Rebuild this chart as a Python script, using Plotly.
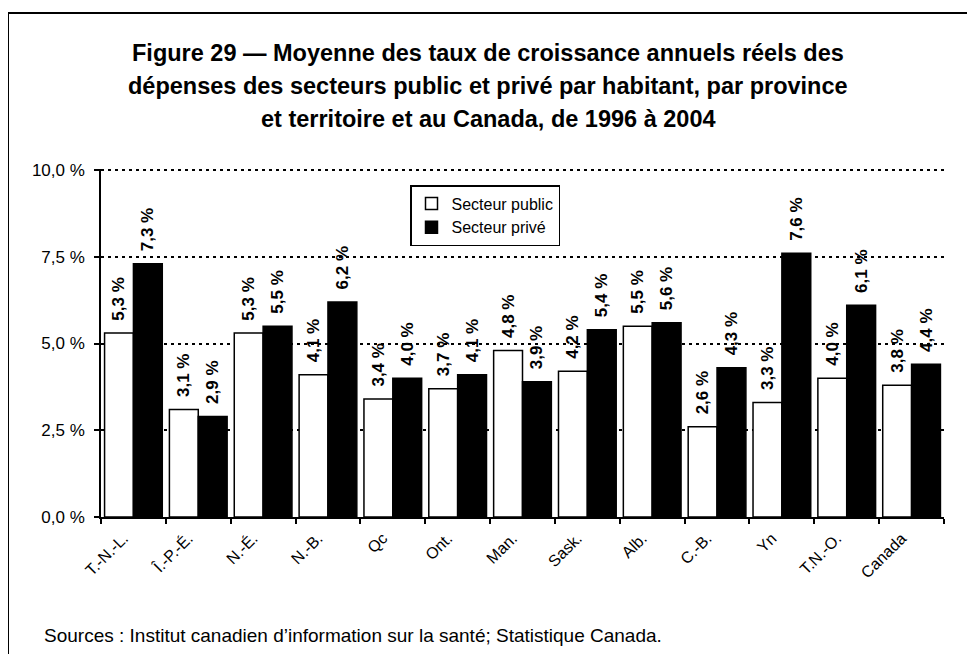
import plotly.graph_objects as go

categories = ["T.-N.-L.", "Î.-P.-É.", "N.-É.", "N.-B.", "Qc", "Ont.", "Man.",
              "Sask.", "Alb.", "C.-B.", "Yn", "T.N.-O.", "Canada"]
public_sector = [5.3, 3.1, 5.3, 4.1, 3.4, 3.7, 4.8, 4.2, 5.5, 2.6, 3.3, 4.0, 3.8]
private_sector = [7.3, 2.9, 5.5, 6.2, 4.0, 4.1, 3.9, 5.4, 5.6, 4.3, 7.6, 6.1, 4.4]
y_ticks = [0, 2.5, 5, 7.5, 10]
y_tick_labels = ["0,0 %", "2,5 %", "5,0 %", "7,5 %", "10,0 %"]

title_lines = [
    "Figure 29 — Moyenne des taux de croissance annuels réels des",
    "dépenses des secteurs public et privé par habitant, par province",
    "et territoire et au Canada, de 1996 à 2004",
]
source_text = "Sources : Institut canadien d’information sur la santé; Statistique Canada."

FONT = "Liberation Sans, Arial, Helvetica, sans-serif"

fig = go.Figure()
fig.add_trace(go.Bar(
    name="Secteur public", x=categories, y=public_sector,
    marker=dict(color="white", line=dict(color="black", width=1.5)),
    texttemplate="\u00a0\u00a0%{y:.1f} %", textposition="outside", textangle=-90,
    textfont=dict(family=FONT, size=17, color="black", weight="bold"),
    constraintext="none", cliponaxis=False, legendgroup="a",
))
fig.add_trace(go.Bar(
    name="Secteur privé", x=categories, y=private_sector,
    marker=dict(color="black", line=dict(color="black", width=1.5)),
    texttemplate="\u00a0\u00a0%{y:.1f} %", textposition="outside", textangle=-90,
    textfont=dict(family=FONT, size=17, color="black", weight="bold"),
    constraintext="none", cliponaxis=False, legendgroup="b",
))

# figure is shifted by the 8px page margin, so size it to fit the window
W, H = 967, 646
L, R, T, B = 93, 31, 161, 137
pw, ph = W - L - R, H - T - B

def px_x(x):
    return (x - L) / pw

def px_y(y):
    return (H - B - y) / ph

annotations = []
for i, line in enumerate(title_lines):
    annotations.append(dict(
        text=line, xref="paper", yref="paper",
        x=px_x(480), y=px_y(45 + i * 33), xanchor="center", yanchor="middle",
        showarrow=False, font=dict(family=FONT, size=23.5, color="black", weight="bold"),
    ))
annotations.append(dict(
    text=source_text, xref="paper", yref="paper",
    x=px_x(34), y=px_y(627), xanchor="left", yanchor="middle",
    showarrow=False, font=dict(family=FONT, size=19, color="black"),
))

fig.update_layout(
    width=W, height=H,
    margin=dict(l=L, r=R, t=T, b=B),
    paper_bgcolor="white", plot_bgcolor="white",
    separators=", ",
    barmode="group", bargap=0.11, bargroupgap=0,
    font=dict(family=FONT, color="black"),
    showlegend=True,
    legend=dict(
        x=px_x(402), y=px_y(177), xanchor="left", yanchor="top",
        bordercolor="black", borderwidth=1.5, bgcolor="white",
        font=dict(family=FONT, size=16, color="black"),
        traceorder="grouped", tracegroupgap=0, itemwidth=30,
    ),
    annotations=annotations,
    shapes=[dict(type="rect", xref="paper", yref="paper",
                 x0=px_x(0), y0=px_y(5), x1=px_x(W + 20), y1=px_y(H + 20),
                 line=dict(color="black", width=2), fillcolor="rgba(0,0,0,0)", layer="below")],
)

fig.update_xaxes(
    type="category", tickson="boundaries", ticks="outside", ticklen=5,
    tickcolor="black", tickwidth=1.5, showline=True, linecolor="black", linewidth=1.5,
    tickangle=-45, tickfont=dict(family=FONT, size=16, color="black"), showgrid=False,
    ticklabelshift=-10, ticklabelstandoff=4,
)
fig.update_yaxes(
    range=[0, 10.03], tickvals=y_ticks, ticktext=y_tick_labels,
    ticks="outside", ticklen=5, tickcolor="black", tickwidth=1.5,
    showline=True, linecolor="black", linewidth=1.5,
    showgrid=True, gridcolor="black", gridwidth=2, griddash="3px,4px",
    zeroline=False, tickfont=dict(family=FONT, size=17, color="black"),
    ticklabelstandoff=6,
)

fig.write_html("out.html")
